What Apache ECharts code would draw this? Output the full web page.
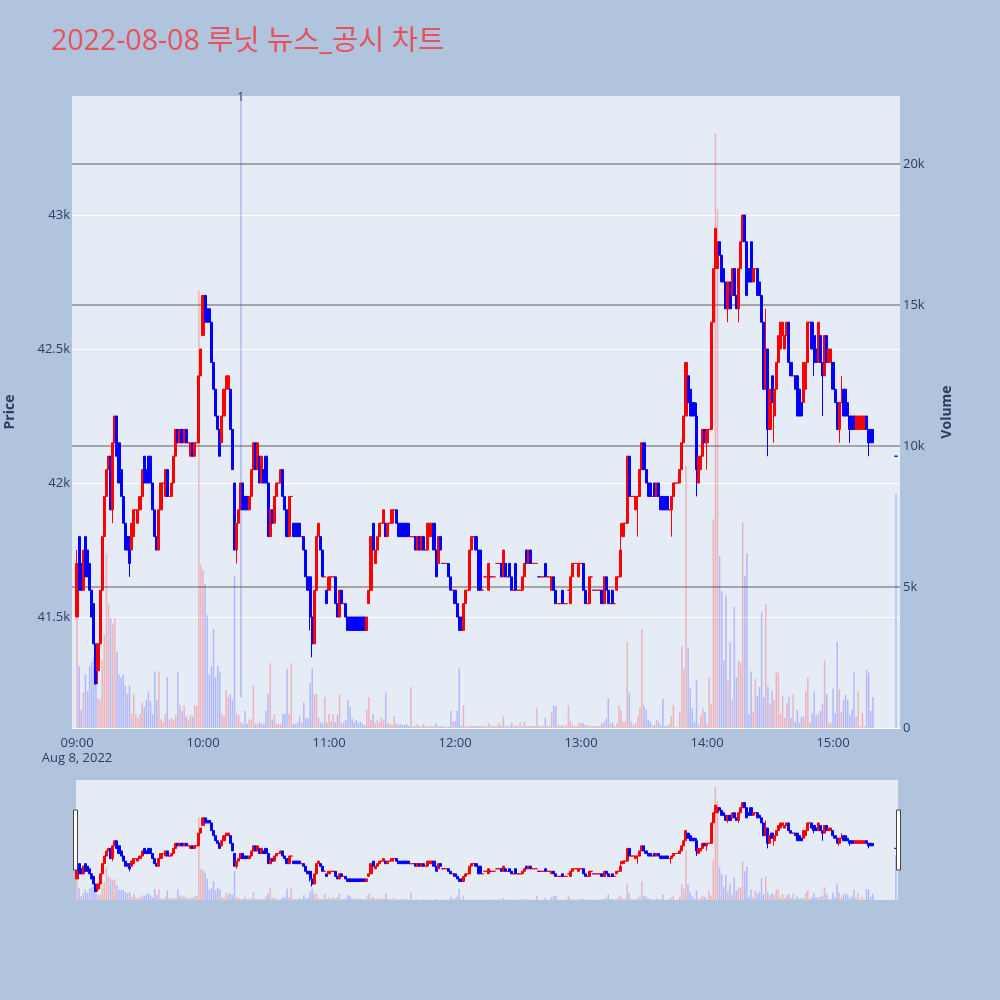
<!DOCTYPE html>
<html>
<head>
<meta charset="utf-8">
<script src="https://cdn.jsdelivr.net/npm/echarts@6/dist/echarts.min.js"></script>
<style>
html, body { margin: 0; padding: 0; background: #b0c4de; }
#main { width: 1000px; height: 1000px; }
</style>
</head>
<body>
<div id="main"></div>
<script>
// one candle per minute from 09:00 (index = minutes after 09:00), last entry is the 15:30 close
const opens = [
  41500,41800,41700,41600,41800,41750,41700,41600,41550,41400,
  41300,41400,41600,41800,41950,42050,42100,41900,42150,42250,
  42150,42050,41950,41850,41800,41800,41750,41800,41900,41850,
  41900,41950,42100,42050,42100,42100,42000,41900,41800,41750,
  41900,42000,41950,42050,41950,41950,42000,42100,42200,42150,
  42200,42150,42200,42150,42100,42150,42100,42150,42150,42400,
  42550,42700,42650,42650,42600,42450,42350,42250,42200,42150,
  42250,42350,42350,42350,42200,42000,41750,41850,41900,42000,
  41950,41950,41900,41950,42050,42150,42050,42100,42000,42050,
  42100,42000,41800,41900,41850,41950,42000,42000,42050,41950,
  41900,41800,41950,41850,41850,41850,41850,41800,41800,41750,
  41650,41650,41500,41400,41600,41800,41800,41750,41650,41600,
  41600,41650,41650,41650,41550,41500,41600,41550,41550,41500,
  41500,41500,41500,41500,41500,41500,41500,41500,41450,41550,
  41600,41850,41700,41750,41800,41850,41850,41850,41800,41850,
  41850,41900,41900,41850,41850,41850,41850,41850,41850,41800,
  41800,41800,41750,41800,41750,41800,41750,41750,41800,41800,
  41850,41750,41700,41800,41700,41700,41700,41700,41650,41600,
  41600,41550,41500,41500,41450,41550,41600,41600,41750,41800,
  41800,41750,41750,41600,41650,41650,41600,41650,41650,41650,
  41700,41700,41700,41650,41700,41650,41700,41650,41600,41700,
  41600,41600,41600,41650,41750,41700,41750,41700,41700,41700,
  41650,41650,41650,41700,41650,41650,41600,41650,41600,41550,
  41550,41600,41550,41550,41600,41550,41650,41700,41700,41650,
  41700,41700,41600,41550,41550,41650,41600,41600,41600,41600,
  41600,41550,41650,41600,41550,41600,41550,41600,41650,41650,
  41800,41850,41850,42100,41950,41950,41900,41950,41950,42050,
  42150,42050,42000,42000,41950,42000,41950,42000,41950,41950,
  41950,41950,41900,41900,41950,42000,42000,42000,42050,42150,
  42250,42400,42350,42300,42300,42250,42000,42050,42100,42200,
  42150,42200,42200,42600,42800,42800,42900,42850,42800,42750,
  42650,42750,42700,42800,42700,42650,42800,42900,43000,42900,
  42800,42900,42750,42800,42800,42750,42700,42600,42350,42500,
  42200,42400,42250,42350,42450,42500,42550,42500,42550,42600,
  42450,42400,42400,42400,42350,42300,42300,42350,42450,42600,
  42600,42550,42500,42450,42550,42450,42400,42550,42450,42450,
  42450,42350,42300,42200,42300,42350,42350,42300,42250,42250,
  42250,42200,42200,42200,42200,42200,42250,42200,42200,42200,
  42100
];
const closes = [
  41700,41600,41600,41750,41650,41650,41600,41500,41400,41250,
  41400,41600,41800,41950,42050,42100,41900,42150,42250,42100,
  42000,41950,41850,41750,41750,41700,41850,41900,41900,41900,
  41950,42050,42000,42000,42000,42000,41900,41800,41750,41900,
  42000,42000,42050,41950,41950,42000,42100,42200,42150,42200,
  42150,42200,42150,42150,42150,42100,42150,42150,42400,42500,
  42700,42600,42600,42600,42450,42350,42250,42200,42100,42250,
  42350,42400,42400,42200,42050,41750,41850,41900,42000,41900,
  41900,41900,41950,42050,42150,42050,42150,42000,42100,42000,
  42000,41800,41900,41850,41950,42000,42000,42050,41950,41900,
  41800,41950,41950,41800,41800,41800,41800,41800,41750,41650,
  41600,41500,41400,41600,41800,41850,41750,41650,41650,41550,
  41650,41650,41650,41550,41500,41600,41550,41550,41500,41450,
  41450,41450,41450,41450,41450,41450,41450,41450,41500,41600,
  41800,41750,41750,41800,41850,41850,41900,41800,41850,41850,
  41900,41900,41850,41800,41800,41800,41800,41800,41800,41800,
  41800,41750,41800,41750,41800,41750,41750,41850,41850,41850,
  41750,41650,41800,41750,41700,41700,41700,41650,41600,41600,
  41550,41500,41450,41450,41550,41600,41600,41750,41800,41800,
  41750,41600,41600,41600,41650,41650,41700,41650,41650,41650,
  41700,41700,41650,41750,41650,41650,41650,41600,41600,41600,
  41600,41600,41650,41700,41700,41750,41700,41700,41700,41700,
  41650,41650,41650,41650,41650,41650,41650,41600,41550,41550,
  41550,41550,41550,41550,41600,41650,41700,41700,41700,41700,
  41700,41600,41550,41550,41650,41650,41600,41600,41600,41600,
  41550,41650,41600,41550,41550,41550,41550,41650,41650,41750,
  41850,41850,42100,41950,41950,41950,41950,41950,42050,42150,
  42050,42000,41950,41950,41950,41950,42000,41950,41900,41900,
  41900,41900,41900,41950,42000,42000,42000,42050,42150,42250,
  42450,42300,42250,42250,42250,42050,42100,42100,42200,42150,
  42200,42200,42600,42800,42950,42900,42850,42750,42750,42650,
  42750,42650,42800,42700,42650,42800,42900,43000,42900,42700,
  42750,42750,42800,42800,42700,42700,42600,42350,42500,42200,
  42350,42300,42350,42450,42550,42600,42600,42550,42600,42450,
  42400,42400,42350,42250,42250,42250,42450,42450,42600,42600,
  42500,42450,42450,42600,42450,42400,42550,42450,42500,42500,
  42350,42300,42200,42300,42300,42250,42250,42250,42200,42200,
  42200,42250,42250,42250,42250,42250,42200,42150,42150,42150,
  42100
];
// [minute, low, high] where the wick reaches past the body
const wicks = [
  [0,41500,41750],[10,41250,41400],[17,41850,42150],[25,41650,41800],[34,42000,42100],
  [60,42550,42700],[61,42600,42700],[76,41700,41850],[111,41450,41650],[112,41350,41500],
  [141,41750,41850],[259,41650,41850],[267,41800,41950],[283,41800,41950],[295,41950,42300],
  [300,42050,42200],[304,42800,42950],[310,42600,42750],[315,42600,42800],[328,42350,42650],
  [329,42100,42500],[332,42150,42350],[351,42400,42550],[355,42250,42450],[363,42150,42300],
  [364,42300,42400],[368,42150,42250],[377,42100,42200]
];
const volumes = [
  3950,2200,660,1250,1900,1300,2200,2350,2500,1600,
  1050,1000,2400,3300,6200,4400,3900,3700,3900,2700,
  1900,1800,1900,1500,1200,1500,500,1200,500,350,
  500,900,750,1000,1300,950,500,2000,1000,2000,
  300,200,500,1800,300,350,300,450,2000,800,
  600,800,400,300,450,400,800,800,15500,5800,
  5600,5100,4000,1900,2200,3500,1800,2200,2000,500,
  400,1350,1100,1200,1000,5400,500,450,200,150,
  600,150,300,300,1500,150,150,200,150,150,
  600,1200,2300,300,500,150,150,150,500,500,
  2100,500,2300,150,150,200,400,200,900,350,
  350,1600,2100,1200,1200,370,200,170,1100,200,
  500,250,500,200,460,1200,170,200,280,1000,
  750,340,200,280,170,220,140,100,660,1100,
  280,500,170,280,220,370,280,1250,190,140,
  100,430,140,100,140,100,100,140,70,1450,
  70,50,140,70,50,140,70,50,70,70,
  50,170,70,70,50,50,50,50,600,220,
  250,600,2100,70,800,70,70,70,70,70,
  70,70,70,70,70,70,170,70,70,70,
  70,190,70,400,70,70,70,170,70,70,
  70,190,70,220,70,70,70,70,70,730,
  70,70,70,350,70,70,580,800,780,100,
  70,100,50,100,800,260,100,70,70,190,
  190,170,100,100,70,70,70,70,70,70,
  170,220,340,1050,170,190,70,170,800,640,
  220,250,3060,1250,220,100,170,400,730,3500,
  800,660,280,220,100,100,280,220,100,1050,
  70,70,140,430,800,30,30,570,2900,2100,
  9300,2850,1400,700,220,1700,120,430,700,570,
  150,1800,840,7400,21100,18400,6100,4850,2400,4700,
  1670,3050,1000,4300,1800,2400,2300,7300,5400,6200,
  500,2000,570,1740,1150,1460,4100,1100,4400,1460,
  870,1300,1000,1970,1970,500,1150,360,870,1100,
  360,1200,220,640,190,400,400,1300,1800,190,
  520,1300,460,520,600,850,2400,1200,190,170,
  1400,520,3060,1370,580,1000,1170,1000,460,660,
  2000,400,1300,50,540,50,2060,1960,600,1100,
  8300
];
const newsMinute = 77.9;   // 10:18, marker "1"
const timeTicks = [0, 60, 120, 180, 240, 300, 360];
const timeLabels = ['09:00\nAug 8, 2022', '10:00', '11:00', '12:00', '13:00', '14:00', '15:00'];
const priceTicks = [41500, 42000, 42500, 43000];
const volumeTicks = [0, 5000, 10000, 15000, 20000];

const FONT = "'Open Sans', 'Noto Sans CJK KR', sans-serif";
const TXT = '#2a3f5f';
const priceRange = [41086, 43444];
const volMax = 22414;

const minutes = opens.map((_, i) => (i < opens.length - 1 ? i : 390));
const lows = opens.map((o, i) => Math.min(o, closes[i]));
const highs = opens.map((o, i) => Math.max(o, closes[i]));
wicks.forEach(([m, l, h]) => {
  lows[m] = Math.min(lows[m], l);
  highs[m] = Math.max(highs[m], h);
});
const candleData = minutes.map((m, i) => [m, opens[i], closes[i], lows[i], highs[i]]);
const isUp = i => closes[i] > opens[i] || (closes[i] === opens[i] && i > 0 && closes[i] >= closes[i - 1]);
const volData = minutes.map((m, i) => ({
  value: [m, volumes[i]],
  itemStyle: { color: isUp(i) ? 'rgba(255,0,0,0.24)' : 'rgba(0,0,255,0.22)' }
}));

const candleStyle = {
  color: '#ff0000', color0: '#0000ff',
  borderColor: '#ff0000', borderColor0: '#0000ff', borderWidth: 1
};

var chartDom = document.getElementById('main');
var myChart = echarts.init(chartDom);
var option;

option = {
  animation: false,
  backgroundColor: '#b0c4de',
  textStyle: { fontFamily: FONT },
  title: {
    text: '2022-08-08 루닛 뉴스_공시 차트',
    left: 46,
    top: 23,
    textStyle: { color: '#e8505b', fontSize: 28.5, fontWeight: 'normal', fontFamily: FONT }
  },
  grid: [
    { left: 72, right: 100, top: 96, height: 632, show: true, backgroundColor: '#e5ecf6', borderWidth: 0, outerBoundsMode: 'none', containLabel: false },
    { left: 76, right: 102, top: 780, height: 120, show: true, backgroundColor: '#e5ecf6', borderWidth: 0, outerBoundsMode: 'none', containLabel: false }
  ],
  xAxis: [
    {
      type: 'value', gridIndex: 0, min: -2.4, max: 391.9,
      axisLine: { show: true, lineStyle: { color: '#ffffff', width: 1 } },
      axisTick: { show: false, customValues: timeTicks },
      splitLine: { show: false },
      axisLabel: {
        customValues: timeTicks,
        formatter: v => timeLabels[timeTicks.indexOf(v)],
        color: TXT, fontSize: 13, margin: 8, lineHeight: 15, fontFamily: FONT
      }
    },
    { type: 'value', gridIndex: 1, min: -0.5, max: 391, show: false }
  ],
  yAxis: [
    {
      type: 'value', gridIndex: 0, position: 'left',
      min: priceRange[0], max: priceRange[1],
      name: 'Price', nameLocation: 'middle', nameGap: 55,
      nameTextStyle: { color: TXT, fontSize: 14, fontWeight: 'bold', fontFamily: FONT },
      axisLine: { show: false },
      axisTick: { show: false, customValues: priceTicks },
      axisLabel: { customValues: priceTicks, formatter: v => v / 1000 + 'k', color: TXT, fontSize: 13, margin: 2 },
      splitLine: { show: true, lineStyle: { color: '#ffffff', width: 1 } }
    },
    {
      type: 'value', gridIndex: 0, position: 'right',
      min: 0, max: volMax,
      name: 'Volume', nameLocation: 'middle', nameGap: 40,
      nameTextStyle: { color: TXT, fontSize: 14, fontWeight: 'bold', fontFamily: FONT },
      axisLine: { show: false },
      axisTick: { show: false, customValues: volumeTicks.slice(1) },
      axisLabel: { customValues: volumeTicks, formatter: v => (v === 0 ? '0' : v / 1000 + 'k'), color: TXT, fontSize: 13, margin: 3 },
      splitLine: { show: true, lineStyle: { color: '#8c8c8c', width: 1.5 } }
    },
    { type: 'value', gridIndex: 1, min: priceRange[0], max: priceRange[1], show: false },
    { type: 'value', gridIndex: 1, min: 0, max: volMax, show: false }
  ],
  series: [
    {
      name: 'Volume', type: 'bar', xAxisIndex: 0, yAxisIndex: 1,
      data: volData, barWidth: 1.5, z: 1, silent: true
    },
    {
      name: 'Price', type: 'candlestick', xAxisIndex: 0, yAxisIndex: 0,
      data: candleData, encode: { x: 0, y: [1, 2, 3, 4] },
      barWidth: 2.6, itemStyle: candleStyle, z: 3, silent: true,
      markLine: {
        silent: true, symbol: ['none', 'none'], animation: false,
        lineStyle: { color: 'rgba(70,90,230,0.35)', width: 1.5, type: 'solid' },
        label: { show: true, position: 'end', formatter: '1', color: TXT, fontSize: 12, distance: -8 },
        data: [[{ coord: [newsMinute, 41200] }, { coord: [newsMinute, priceRange[1]] }]]
      }
    },
    {
      name: 'VolumeMini', type: 'bar', xAxisIndex: 1, yAxisIndex: 3,
      data: volData, barWidth: 1.5, z: 1, silent: true
    },
    {
      name: 'PriceMini', type: 'candlestick', xAxisIndex: 1, yAxisIndex: 2,
      data: candleData, encode: { x: 0, y: [1, 2, 3, 4] },
      barWidth: 2.6, itemStyle: candleStyle, z: 3, silent: true
    }
  ],
  graphic: [
    { type: 'rect', shape: { x: 73.5, y: 810, width: 4, height: 60 }, style: { fill: '#ffffff', stroke: '#444444', lineWidth: 1 }, z: 10 },
    { type: 'rect', shape: { x: 896.5, y: 810, width: 4, height: 60 }, style: { fill: '#ffffff', stroke: '#444444', lineWidth: 1 }, z: 10 }
  ]
};

option && myChart.setOption(option);

window.onresize = function() {
  myChart.resize();
};
</script>
</body>
</html>
